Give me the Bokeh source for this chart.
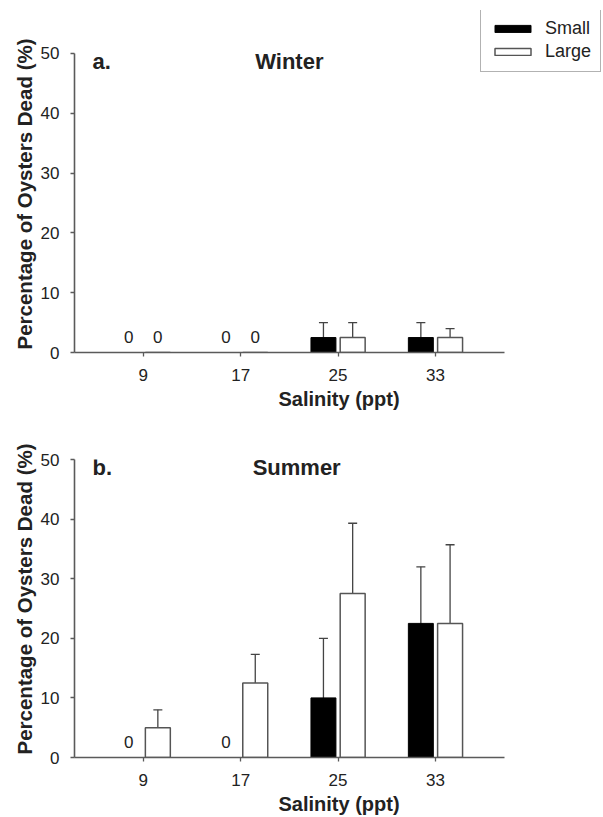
from bokeh.plotting import figure
from bokeh.models import (ColumnDataSource, Whisker, TeeHead, Label, Legend,
                          LegendItem, FixedTicker, Range1d, Title)
from bokeh.layouts import column
from bokeh.embed import file_html
from bokeh.resources import INLINE
from bokeh.core.properties import value

# ---- data ----
salinity = [9, 17, 25, 33]
tick_labels = ["9", "17", "25", "33"]
winter_small = [0, 0, 2.5, 2.5]
winter_small_se = [0, 0, 2.5, 2.5]
winter_large = [0, 0, 2.5, 2.5]
winter_large_se = [0, 0, 2.5, 1.5]
summer_small = [0, 0, 10, 22.5]
summer_small_se = [0, 0, 10, 9.5]
summer_large = [5, 12.5, 27.5, 22.5]
summer_large_se = [3, 4.8, 11.8, 13.2]
y_ticks = [0, 10, 20, 30, 40, 50]
y_label = "Percentage of Oysters Dead (%)"
x_label = "Salinity (ppt)"

FONT = "Liberation Sans"
AX = "#5a5a5a"
TXT = "#222222"
X0, XAX, XEND = 3.355, 38.67, 46.80
OFF = 1.2
BW = 2.05


def panel(tag, season, small, small_se, large, large_se, height, top, bottom,
          tag_y, season_x, y_end):
    p = figure(width=603, height=height, x_range=Range1d(X0, XEND),
               y_range=Range1d(0, y_end),
               output_backend="svg", toolbar_location=None,
               min_border_left=74, min_border_right=0,
               min_border_top=top, min_border_bottom=bottom)
    p.grid.visible = False
    p.outline_line_color = None

    xs_s = [s - OFF for s in salinity]
    xs_l = [s + OFF for s in salinity]
    rs = p.vbar(x=xs_s, top=small, bottom=0, width=BW, fill_color="black",
                line_color="black", line_width=1)
    rl = p.vbar(x=xs_l, top=large, bottom=0, width=BW, fill_color="white",
                line_color="#555555", line_width=1.5)

    for xs, vals, ses in ((xs_s, small, small_se), (xs_l, large, large_se)):
        wx = [x for x, e in zip(xs, ses) if e > 0]
        wu = [v + e for v, e in zip(vals, ses) if e > 0]
        wl = [max(v - e, 0) for v, e in zip(vals, ses) if e > 0]
        src = ColumnDataSource(dict(x=wx, u=wu, l=wl))
        w = Whisker(base="x", upper="u", lower="l", source=src,
                    line_color="#444444", line_width=1.3,
                    upper_head=TeeHead(size=9, line_color="#444444", line_width=1.3),
                    lower_head=TeeHead(size=9, line_color="#444444", line_width=1.3))
        p.add_layout(w)

        zx = [x for x, v in zip(xs, vals) if v == 0]
        p.text(x=zx, y=[0] * len(zx), text=["0"] * len(zx), text_align="center",
               text_baseline="alphabetic", y_offset=-16, text_font=value(FONT),
               text_font_size="17px", text_color=TXT)

    p.add_layout(Label(x=4.83, y=tag_y, text=tag, text_font=FONT, text_font_size="22px",
                       text_font_style="bold", text_baseline="middle", text_color=TXT))
    p.add_layout(Label(x=season_x, y=tag_y, text=season, text_font=FONT,
                       text_font_size="22px", text_font_style="bold",
                       text_baseline="middle", text_align="center", text_color=TXT))

    p.xaxis.ticker = FixedTicker(ticks=salinity)
    p.xaxis.major_label_overrides = {s: t for s, t in zip(salinity, tick_labels)}
    p.yaxis.ticker = FixedTicker(ticks=y_ticks)
    p.xaxis.bounds = (X0, XAX)
    p.yaxis.bounds = (0, 50)
    for ax in (p.xaxis, p.yaxis):
        ax.axis_line_color = AX
        ax.axis_line_width = 1.6
        ax.major_tick_line_color = AX
        ax.major_tick_line_width = 1.3
        ax.major_tick_out = 4
        ax.major_tick_in = 0
        ax.minor_tick_line_color = None
        ax.major_label_text_font = FONT
        ax.major_label_text_font_size = "17px"
        ax.major_label_text_color = TXT
        ax.axis_label_text_font = FONT
        ax.axis_label_text_font_size = "20px"
        ax.axis_label_text_font_style = "bold"
        ax.axis_label_text_color = TXT
    p.xaxis.axis_label = x_label
    p.xaxis.major_label_standoff = 12
    p.xaxis.axis_label_standoff = 4
    p.yaxis.major_label_standoff = 11

    # y-axis title, anchored at the bottom of the axis so that it runs along 0-50
    p.add_layout(Title(text=y_label, align="left", offset=3, text_font=FONT,
                       text_font_size="20.5px", text_font_style="bold",
                       text_color=TXT, standoff=4), "left")
    return p, rs, rl


# top panel: frame extends above/right of the axes to hold the legend
p1, rs, rl = panel("a.", "Winter", winter_small, winter_small_se, winter_large,
                   winter_large_se, height=412, top=10, bottom=60,
                   tag_y=48.66, season_x=21.0, y_end=57.19)
legend = Legend(items=[LegendItem(label="Small", renderers=[rs]),
                       LegendItem(label="Large", renderers=[rl])],
                location=(406, 280), border_line_color="#666666", border_line_width=1.5,
                background_fill_color="white", background_fill_alpha=1,
                padding=9, spacing=2, margin=0, glyph_width=45, glyph_height=9,
                label_height=20, label_standoff=10,
                label_text_font=FONT, label_text_font_size="18px", label_text_color=TXT)
p1.add_layout(legend)

p2, _, _ = panel("b.", "Summer", summer_small, summer_small_se, summer_large,
                 summer_large_se, height=405, top=47, bottom=60,
                 tag_y=48.66, season_x=21.6, y_end=50)

layout = column(p1, p2, spacing=0)
open("out.html", "w").write(file_html(layout, INLINE))
